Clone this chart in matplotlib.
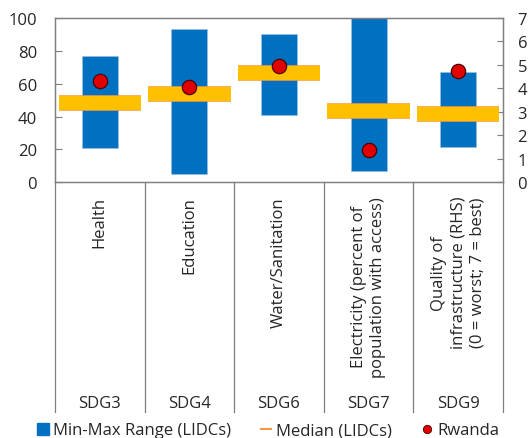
import numpy as np
import matplotlib
matplotlib.use("Agg")
import matplotlib.pyplot as plt
import matplotlib.patheffects as pe
from matplotlib.lines import Line2D
import matplotlib.transforms as mtransforms

plt.rcParams['font.family'] = ['Open Sans', 'DejaVu Sans']

# data
categories = ["Health", "Education", "Water/Sanitation",
              "Electricity (percent of\npopulation with access)",
              "Quality of\ninfrastructure (RHS)\n(0 = worst; 7 = best)"]
sdg_labels = ["SDG3", "SDG4", "SDG6", "SDG7", "SDG9"]
# first four on left axis (percent), last one on right axis (0-7)
range_min = [21, 5, 41, 7, 1.52]
range_max = [77, 93.5, 90.5, 100, 4.71]
median = [48.3, 53.8, 66.8, 43.7, 2.93]
rwanda = [61.8, 57.8, 71.0, 19.8, 4.75]
on_rhs = [False, False, False, False, True]

blue = "#0070C0"
gold = "#FFC000"
orange = "#F79646"
red = "#E00000"
grey = "#7F7F7F"
txt = "#262626"

fig = plt.figure(figsize=(5.32, 4.39), dpi=100)
ax = fig.add_axes([55 / 532, 1 - 183.3 / 439, 448 / 532, 164.3 / 439])
ax2 = ax.twinx()
ax.set_xlim(-0.5, 4.5)
ax.set_ylim(0, 100)
ax2.set_ylim(0, 7)

for i in range(len(categories)):
    a = ax2 if on_rhs[i] else ax
    a.bar(i, range_max[i] - range_min[i], bottom=range_min[i], width=0.4,
          color=blue, edgecolor="#9DC3E6", linewidth=0.4, zorder=2)
    a.plot([i - 0.46, i + 0.46], [median[i], median[i]], color=gold, lw=10.2,
           solid_capstyle="butt", zorder=3,
           path_effects=[pe.Stroke(linewidth=11.2, foreground=orange), pe.Normal()])
    a.plot(i, rwanda[i], "o", ms=10.3, color=red, mec="#4D0000", mew=0.9, zorder=4)

ax.set_yticks(np.arange(0, 101, 20))
ax2.set_yticks(np.arange(0, 8, 1))
ax.set_xticks([])
ax.tick_params(axis="y", direction="in", length=5, width=0.8, color=grey,
               labelsize=12, labelcolor=txt, pad=13)
ax2.tick_params(axis="y", direction="in", length=4, width=0.8, color=grey,
                labelsize=12, labelcolor=txt, pad=10.5)
for a in (ax, ax2):
    for s in a.spines.values():
        s.set_color(grey)
        s.set_linewidth(0.9)

# category dividers and labels under the plot
trans = mtransforms.blended_transform_factory(ax.transData, ax.transAxes)
for xd in np.arange(-0.5, 5, 1):
    ax.plot([xd, xd], [0, -1.398], color=grey, lw=0.9, transform=trans,
            clip_on=False)
for i, (c, s) in enumerate(zip(categories, sdg_labels)):
    ax.text(i, -0.083, c, rotation=90, ha="center", va="top",
            multialignment="center", fontsize=12, color=txt, transform=trans,
            linespacing=1.3)
    ax.text(i, -1.343, s, ha="center", va="center", fontsize=12,
            color=txt, transform=trans)

handles = [Line2D([], [], ls="none", marker="s", ms=8, color=blue),
           Line2D([], [], color=orange, lw=1.5),
           Line2D([], [], ls="none", marker="o", ms=6, color=red, mec="#4D0000", mew=0.6)]
labels = ["Min-Max Range (LIDCs)", "Median (LIDCs)", "Rwanda"]
fig.legend(handles, labels, loc="lower center", bbox_to_anchor=(0.505, -0.035),
           ncol=3, frameon=False, fontsize=12, handlelength=0.6,
           handletextpad=0.3, columnspacing=1.8, labelcolor=txt)

fig.savefig("out.png", dpi=100)
